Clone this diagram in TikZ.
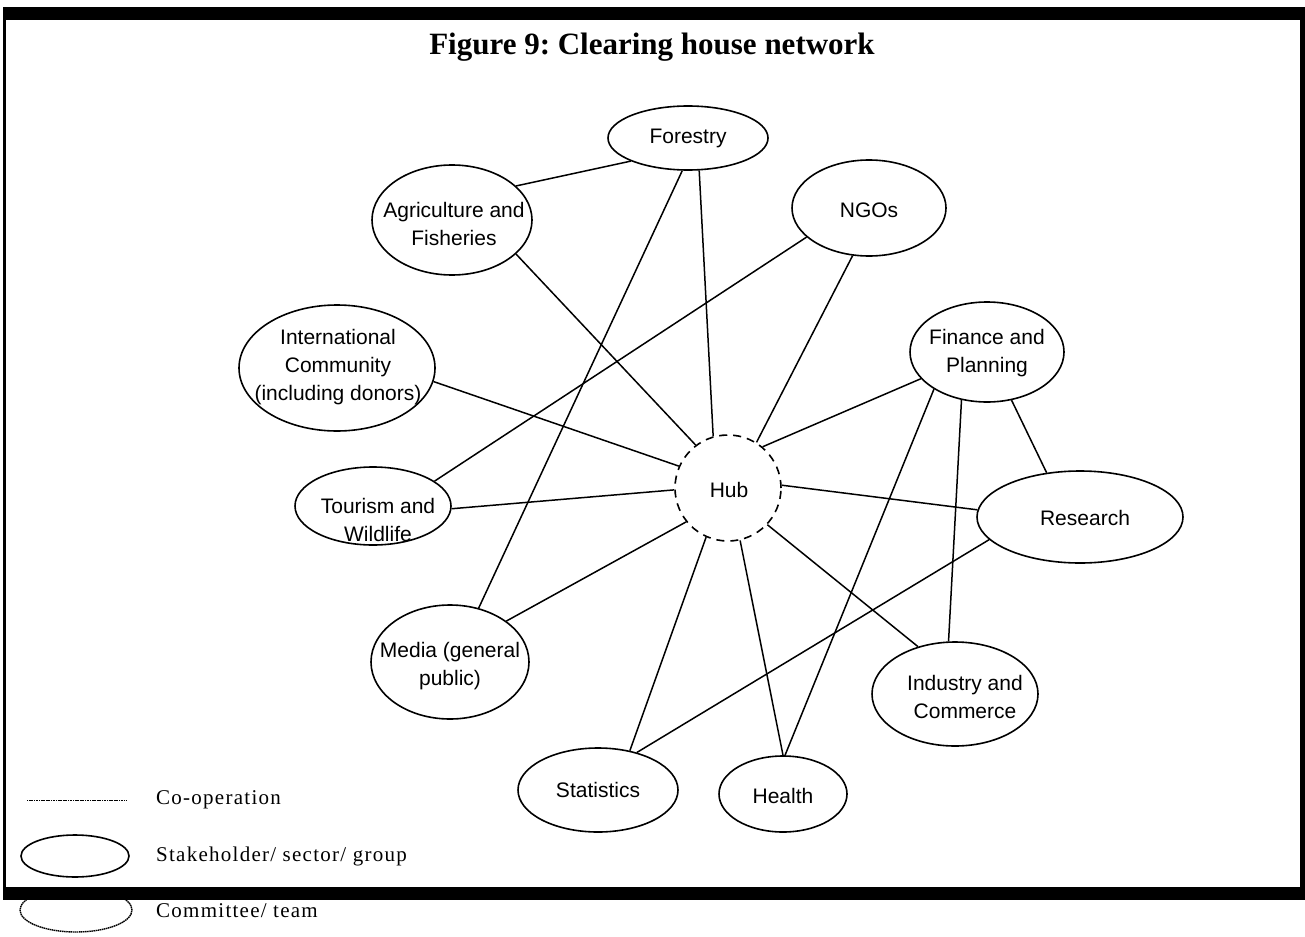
\documentclass[tikz,border=0pt]{standalone}
\usepackage{fontspec}
\setmainfont{Liberation Serif}
\newfontfamily\labelfont{Liberation Sans}
\newfontfamily\legendfont[LetterSpace=6]{Liberation Serif}
\usetikzlibrary{shapes.geometric}
\frenchspacing
\begin{document}
\begin{tikzpicture}[x=1pt,y=-1pt,
  party/.style={ellipse,draw,line width=1.6pt,inner sep=0pt},
  txt/.style={font=\labelfont\fontsize{21}{28}\selectfont,align=center,inner sep=0pt},
  link/.style={line width=1.5pt},
  legtxt/.style={font=\legendfont\fontsize{21}{24}\selectfont,anchor=west,inner sep=0pt}]
\useasboundingbox (0,0) rectangle (1305,936);
\fill[white] (0,0) rectangle (1305,936);

% title
\node[font=\bfseries\fontsize{31}{34}\selectfont,anchor=base] (title) at (652,55) {Figure 9: Clearing house network};

% stakeholder ellipses
\node[party,minimum width=160,minimum height=64] (forestry) at (688,138) {};
\node[party,minimum width=160,minimum height=110] (agri) at (452,220) {};
\node[party,minimum width=154,minimum height=96] (ngos) at (869,208) {};
\node[party,minimum width=196,minimum height=126] (intl) at (337,368) {};
\node[party,minimum width=154,minimum height=100] (finance) at (987,352) {};
\node[party,minimum width=156,minimum height=78] (tourism) at (373,506) {};
\node[party,minimum width=206,minimum height=92] (research) at (1080,517) {};
\node[party,minimum width=158,minimum height=114] (media) at (450,662) {};
\node[party,minimum width=166,minimum height=104] (industry) at (955,694) {};
\node[party,minimum width=160,minimum height=84] (statistics) at (598,790) {};
\node[party,minimum width=128,minimum height=76] (health) at (783,794) {};
\node[circle,draw,line width=1.6pt,dash pattern=on 8pt off 6pt,minimum size=106,inner sep=0pt] (hub) at (728,488) {};

% labels
\node[txt] (forestry-t) at (688,138) {Forestry};
\node[txt] (agri-t) at (454,224) {Agriculture and\\Fisheries};
\node[txt] (ngos-t) at (869,210) {NGOs};
\node[txt] (intl-t) at (338,367) {International\\Community\\(including donors)};
\node[txt] (finance-t) at (987,353) {Finance and\\Planning};
\node[txt] (tourism-t) at (378,520) {Tourism and\\Wildlife};
\node[txt] (research-t) at (1085,518) {Research};
\node[txt] (media-t) at (450,666) {Media (general\\public)};
\node[txt] (industry-t) at (965,697) {Industry and\\Commerce};
\node[txt] (statistics-t) at (598,790) {Statistics};
\node[txt] (health-t) at (783,796) {Health};
\node[txt] (hub-t) at (729,490) {Hub};

% co-operation links
\draw[link] (forestry.202) -- (agri.28);
\draw[link] (forestry.289) -- (hub.106);
\draw[link] (forestry.260) -- (media.62);
\draw[link] (agri.332) -- (hub.127);
\draw[link] (ngos.251) -- (hub.58);
\draw[link] (ngos.205) -- (tourism.22);
\draw[link] (intl.352) -- (hub.156);
\draw[link] (finance.202) -- (hub.50);
\draw[link] (finance.215) -- (health.87);
\draw[link] (finance.242) -- (industry.97);
\draw[link] (finance.297) -- (research.127);
\draw[link] (tourism.358) -- (hub.182);
\draw[link] (research.176) -- (hub.3);
\draw[link] (research.194) -- (statistics.44);
\draw[link] (media.36) -- (hub.219);
\draw[link] (statistics.51) -- (hub.246);
\draw[link] (health.90) -- (hub.283);
\draw[link] (industry.128) -- (hub.317);

% legend
\coordinate (leg-a) at (27,800);
\coordinate (leg-b) at (127,800);
\draw[line width=1pt,dash pattern=on 1.2pt off 0.5pt] (leg-a) -- (leg-b);
\node[legtxt] (leg-line-t) at (156,800) {Co-operation};
\node[ellipse,draw,line width=1.6pt,minimum width=108,minimum height=42,inner sep=0pt] (leg-party) at (75,856) {};
\node[legtxt] (leg-party-t) at (156,856) {Stakeholder/ sector/ group};
\node[ellipse,draw,line width=1.4pt,dash pattern=on 1.5pt off 0.6pt,minimum width=112,minimum height=44,inner sep=0pt] (leg-team) at (76,910) {};
\node[legtxt] (leg-team-t) at (156,911) {Committee/ team};

% frame
\fill (3,7) rectangle (1305,20);
\fill (3,7) rectangle (6,900);
\fill (1300,7) rectangle (1305,900);
\fill (3,887) rectangle (1305,900);
\end{tikzpicture}
\end{document}
